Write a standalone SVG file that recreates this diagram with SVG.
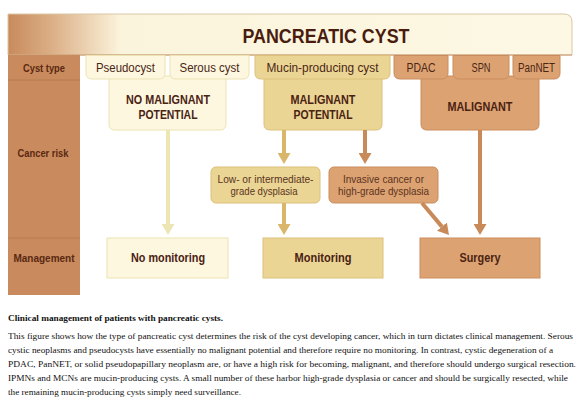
<svg xmlns="http://www.w3.org/2000/svg" width="582" height="409" viewBox="0 0 582 409">
  <defs>
    <linearGradient id="hdr" x1="8" y1="0" x2="572" y2="0" gradientUnits="userSpaceOnUse">
      <stop offset="0" stop-color="#c88a5c"/>
      <stop offset="0.08" stop-color="#dcb088"/>
      <stop offset="0.2" stop-color="#fbf4dc"/>
      <stop offset="1" stop-color="#fdf8e4"/>
    </linearGradient>
    <marker id="hPale" viewBox="0 -6.5 11 13" refX="0" refY="0" markerWidth="11" markerHeight="13" markerUnits="userSpaceOnUse" orient="auto">
      <path d="M0,-6.5 L11,0 L0,6.5 z" fill="#ece6b4"/>
    </marker>
    <marker id="hTan" viewBox="0 -6.5 11 13" refX="0" refY="0" markerWidth="11" markerHeight="13" markerUnits="userSpaceOnUse" orient="auto">
      <path d="M0,-6.5 L11,0 L0,6.5 z" fill="#dab66a"/>
    </marker>
    <marker id="hBrown" viewBox="0 -6.5 11 13" refX="0" refY="0" markerWidth="11" markerHeight="13" markerUnits="userSpaceOnUse" orient="auto">
      <path d="M0,-6.5 L11,0 L0,6.5 z" fill="#c98a5a"/>
    </marker>
  </defs>
  <style>
    .lbl { font-family: "Liberation Sans", Arial, sans-serif; font-weight: bold; font-size: 11px; fill: #5a2812; text-anchor: middle; }
    .tab { font-family: "Liberation Sans", Arial, sans-serif; font-size: 12px; fill: #4a2616; text-anchor: middle; }
    .big { font-family: "Liberation Sans", Arial, sans-serif; font-weight: bold; font-size: 12px; fill: #4a2212; text-anchor: middle; }
    .sm { font-family: "Liberation Sans", Arial, sans-serif; font-size: 11px; fill: #5a3420; text-anchor: middle; }
    .cream { fill: #fdf7e0; stroke: #ece3b2; stroke-width: 1; }
    .tan { fill: #ead595; stroke: #dcc07a; stroke-width: 1; }
    .brown { fill: #dda272; stroke: #c98c5e; stroke-width: 1; }
    .arr { fill: none; stroke-width: 4; }
    .cap { font-family: "Liberation Serif", "Times New Roman", serif; font-size: 9.2px; fill: #111; }
  </style>

  <g id="header">
    <path d="M8,14 H564 Q572,14 572,22 V55 H8 Z" fill="url(#hdr)" stroke="#d9c7a4" stroke-width="1"/>
    <line x1="8" y1="55" x2="572" y2="55" stroke="#c99a72" stroke-width="1.2"/>
    <text x="326" y="43" textLength="167" lengthAdjust="spacingAndGlyphs" style="font-family:'Liberation Sans',Arial,sans-serif;font-weight:bold;font-size:21px;fill:#4a1c0e;text-anchor:middle">PANCREATIC CYST</text>
  </g>

  <g id="row-labels">
    <rect x="8" y="55" width="72" height="240" fill="#c98b5d"/>
    <line x1="8" y1="80" x2="80" y2="80" stroke="#b47a50" stroke-width="1"/>
    <line x1="8" y1="238" x2="80" y2="238" stroke="#b47a50" stroke-width="1"/>
    <text class="lbl" x="44" y="72" textLength="42" lengthAdjust="spacingAndGlyphs">Cyst type</text>
    <text class="lbl" x="43" y="157" textLength="51" lengthAdjust="spacingAndGlyphs">Cancer risk</text>
    <text class="lbl" x="44" y="262" textLength="61" lengthAdjust="spacingAndGlyphs">Management</text>
  </g>

  <g id="no-malignant-potential">
    <path class="cream" d="M109,76 H226 V124 Q226,130 220,130 H115 Q109,130 109,124 Z"/>
    <text class="big" x="168" y="103.5" textLength="84" lengthAdjust="spacingAndGlyphs">NO MALIGNANT</text>
    <text class="big" x="168" y="118.5" textLength="59" lengthAdjust="spacingAndGlyphs">POTENTIAL</text>
  </g>
  <g id="malignant-potential">
    <path class="tan" d="M264,76 H382 V124 Q382,130 376,130 H270 Q264,130 264,124 Z"/>
    <text class="big" x="323" y="103.5" textLength="65" lengthAdjust="spacingAndGlyphs">MALIGNANT</text>
    <text class="big" x="323" y="118.5" textLength="59" lengthAdjust="spacingAndGlyphs">POTENTIAL</text>
  </g>
  <g id="malignant">
    <path class="brown" d="M421,76 H539 V124 Q539,130 533,130 H427 Q421,130 421,124 Z"/>
    <text class="big" x="480" y="111" textLength="65" lengthAdjust="spacingAndGlyphs">MALIGNANT</text>
  </g>

  <g id="pseudocyst">
    <path class="cream" d="M86,55.5 H165 V73 Q165,79 159,79 H92 Q86,79 86,73 Z"/>
    <text class="tab" x="125.5" y="72" textLength="59" lengthAdjust="spacingAndGlyphs">Pseudocyst</text>
  </g>
  <g id="serous-cyst">
    <path class="cream" d="M170,55.5 H249 V73 Q249,79 243,79 H176 Q170,79 170,73 Z"/>
    <text class="tab" x="209.5" y="72" textLength="60" lengthAdjust="spacingAndGlyphs">Serous cyst</text>
  </g>
  <g id="mucin-producing-cyst">
    <path class="tan" d="M255,55.5 H390 V73 Q390,79 384,79 H261 Q255,79 255,73 Z"/>
    <text class="tab" x="322.5" y="72" textLength="112" lengthAdjust="spacingAndGlyphs">Mucin-producing cyst</text>
  </g>
  <g id="pdac">
    <path class="brown" d="M394,55.5 H448 V73 Q448,79 442,79 H400 Q394,79 394,73 Z"/>
    <text class="tab" x="421" y="72" textLength="29" lengthAdjust="spacingAndGlyphs">PDAC</text>
  </g>
  <g id="spn">
    <path class="brown" d="M453,55.5 H509 V73 Q509,79 503,79 H459 Q453,79 453,73 Z"/>
    <text class="tab" x="481" y="72" textLength="19" lengthAdjust="spacingAndGlyphs">SPN</text>
  </g>
  <g id="pannet">
    <path class="brown" d="M513,55.5 H560 V73 Q560,79 554,79 H519 Q513,79 513,73 Z"/>
    <text class="tab" x="536.5" y="72" textLength="37" lengthAdjust="spacingAndGlyphs">PanNET</text>
  </g>

  <g id="low-intermediate-dysplasia">
    <rect class="tan" x="211" y="167" width="109" height="36" rx="5"/>
    <text class="sm" x="265.5" y="183" textLength="96" lengthAdjust="spacingAndGlyphs">Low- or intermediate-</text>
    <text class="sm" x="264" y="194.5" textLength="67" lengthAdjust="spacingAndGlyphs">grade dysplasia</text>
  </g>
  <g id="invasive-cancer">
    <rect class="brown" x="329" y="167" width="109" height="36" rx="5"/>
    <text class="sm" x="383.5" y="183" textLength="81" lengthAdjust="spacingAndGlyphs">Invasive cancer or</text>
    <text class="sm" x="383.5" y="194.5" textLength="91" lengthAdjust="spacingAndGlyphs">high-grade dysplasia</text>
  </g>

  <g id="no-monitoring">
    <rect class="cream" x="107" y="238" width="121" height="40"/>
    <text class="big" x="168" y="262" textLength="74" lengthAdjust="spacingAndGlyphs">No monitoring</text>
  </g>
  <g id="monitoring">
    <rect class="tan" x="263" y="238" width="120" height="40"/>
    <text class="big" x="323" y="262" textLength="57" lengthAdjust="spacingAndGlyphs">Monitoring</text>
  </g>
  <g id="surgery">
    <rect class="brown" x="420" y="238" width="120" height="40"/>
    <text class="big" x="480" y="262" textLength="41" lengthAdjust="spacingAndGlyphs">Surgery</text>
  </g>

  <g id="connectors">
    <line class="arr" x1="168" y1="130" x2="168" y2="224" stroke="#ece6b4" marker-end="url(#hPale)"/>
    <line class="arr" x1="284" y1="130" x2="284" y2="153" stroke="#dab66a" marker-end="url(#hTan)"/>
    <line class="arr" x1="365" y1="130" x2="365" y2="153" stroke="#c98a5a" marker-end="url(#hBrown)"/>
    <line class="arr" x1="284" y1="203" x2="284" y2="224" stroke="#dab66a" marker-end="url(#hTan)"/>
    <line class="arr" x1="422" y1="203" x2="441.9" y2="226.6" stroke="#c98a5a" marker-end="url(#hBrown)"/>
    <line class="arr" x1="480" y1="130" x2="480" y2="224" stroke="#c98a5a" marker-end="url(#hBrown)"/>
  </g>

  <g id="caption">
    <text class="cap" x="8" y="321" font-weight="bold" textLength="215" lengthAdjust="spacingAndGlyphs">Clinical management of patients with pancreatic cysts.</text>
    <text class="cap" x="8" y="339" textLength="565" lengthAdjust="spacingAndGlyphs">This figure shows how the type of pancreatic cyst determines the risk of the cyst developing cancer, which in turn dictates clinical management. Serous</text>
    <text class="cap" x="8" y="353" textLength="545" lengthAdjust="spacingAndGlyphs">cystic neoplasms and pseudocysts have essentially no malignant potential and therefore require no monitoring. In contrast, cystic degeneration of a</text>
    <text class="cap" x="8" y="367" textLength="568" lengthAdjust="spacingAndGlyphs">PDAC, PanNET, or solid pseudopapillary neoplasm are, or have a high risk for becoming, malignant, and therefore should undergo surgical resection.</text>
    <text class="cap" x="8" y="381" textLength="560" lengthAdjust="spacingAndGlyphs">IPMNs and MCNs are mucin-producing cysts. A small number of these harbor high-grade dysplasia or cancer and should be surgically resected, while</text>
    <text class="cap" x="8" y="395" textLength="233" lengthAdjust="spacingAndGlyphs">the remaining mucin-producing cysts simply need surveillance.</text>
  </g>
</svg>
